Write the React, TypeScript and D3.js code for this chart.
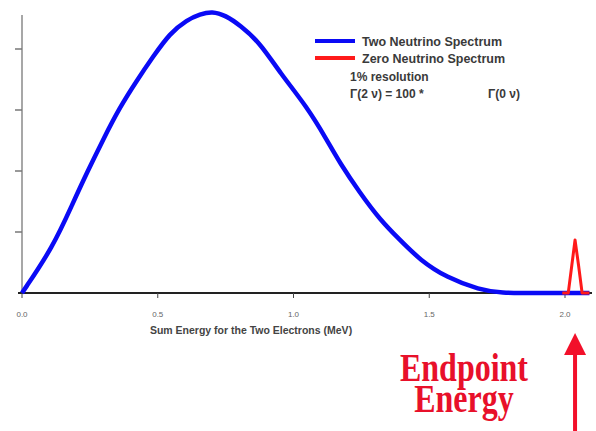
import React from "react";
import * as d3 from "d3";

// Sum energy (MeV) and relative rate
const twoNuEnergy = [0, 0.114, 0.188, 0.239, 0.298, 0.361, 0.424, 0.482, 0.545, 0.608, 0.656, 0.7, 0.75, 0.803, 0.877, 0.95, 1.05, 1.123, 1.171, 1.245, 1.319, 1.392, 1.466, 1.565, 1.687, 1.76, 1.9, 2.09];
const twoNuRate = [0, 0.75, 1.48, 1.97, 2.51, 3.05, 3.49, 3.87, 4.26, 4.48, 4.57, 4.62, 4.55, 4.39, 4.1, 3.61, 3.05, 2.51, 2.13, 1.64, 1.2, 0.87, 0.54, 0.25, 0.05, 0, 0, 0];

const zeroNuEnergy = [1.99, 2.012, 2.025, 2.037, 2.05, 2.063, 2.09];
const zeroNuRate = [0, 0, 0.45, 0.87, 0.45, 0, 0];

const xTicks = [0, 0.5, 1.0, 1.5, 2.0];
const xTickLabels = ["0.0", "0.5", "1.0", "1.5", "2.0"];
const yTicks = [1, 2, 3, 4];

const legendLabels = ["Two Neutrino Spectrum", "Zero Neutrino Spectrum"];
const noteLines = ["1% resolution", "Γ(2 ν) = 100 *"];
const noteRight = "Γ(0 ν)";
const xTitle = "Sum Energy for the Two Electrons (MeV)";

export default function App() {
  const W = 596, H = 431;
  const x = d3.scaleLinear().domain([0, 2]).range([22, 565]);
  const y = d3.scaleLinear().domain([0, 1]).range([293, 232]);

  const line = d3
    .line<[number, number]>()
    .x((d) => x(d[0]))
    .y((d) => y(d[1]))
    .curve(d3.curveBasis);

  const twoNu: [number, number][] = twoNuEnergy.map((e, i) => [e, twoNuRate[i]]);
  const zeroNu: [number, number][] = zeroNuEnergy.map((e, i) => [e, zeroNuRate[i]]);
  const redLine = d3
    .line<[number, number]>()
    .x((d) => x(d[0]))
    .y((d) => y(d[1]))
    .curve(d3.curveLinear);

  const arrowX = x(2.037);
  const txt = "#3a3a3a";

  return (
    <svg
      width={W}
      height={H}
      style={{ position: "absolute", left: 0, top: 0, background: "#fff" }}
      fontFamily="Liberation Sans, Arial, sans-serif"
    >
      <rect x={0} y={0} width={W} height={H} fill="#fff" />
      {/* y axis */}
      <line x1={22} x2={22} y1={15} y2={293} stroke="#8a8a8a" strokeWidth={1.5} />
      {yTicks.map((t) => (
        <line key={t} x1={15} x2={22} y1={y(t)} y2={y(t)} stroke="#777" strokeWidth={1.5} />
      ))}
      {/* x axis */}
      <line x1={18} x2={592} y1={293} y2={293} stroke="#222" strokeWidth={2} />
      {xTicks.map((t, i) => (
        <g key={t}>
          <line x1={x(t)} x2={x(t)} y1={293} y2={298} stroke="#444" strokeWidth={1} />
          <text x={x(t)} y={317} fontSize={8} fill="#666" textAnchor="middle">
            {xTickLabels[i]}
          </text>
        </g>
      ))}
      <text x={251} y={334} fontSize={10.5} fontWeight="bold" fill="#444" textAnchor="middle">
        {xTitle}
      </text>

      {/* spectra */}
      <path d={line(twoNu) || ""} fill="none" stroke="#0a0af5" strokeWidth={4.5} strokeLinejoin="round" />
      <path d={redLine(zeroNu) || ""} fill="none" stroke="#ff1a1a" strokeWidth={3} strokeLinejoin="round" />

      {/* legend */}
      <line x1={315} x2={355} y1={41} y2={41} stroke="#0a0af5" strokeWidth={4} />
      <line x1={315} x2={355} y1={58} y2={58} stroke="#ff1a1a" strokeWidth={4} />
      <text x={362} y={46} fontSize={12.5} fontWeight="bold" fill={txt}>{legendLabels[0]}</text>
      <text x={362} y={63} fontSize={12.5} fontWeight="bold" fill={txt}>{legendLabels[1]}</text>
      <text x={350} y={81} fontSize={12} fontWeight="bold" fill={txt}>{noteLines[0]}</text>
      <text x={350} y={98} fontSize={12} fontWeight="bold" fill={txt}>{noteLines[1]}</text>
      <text x={488} y={98} fontSize={12} fontWeight="bold" fill={txt}>{noteRight}</text>

      {/* annotation */}
      <g fill="#e8102a" fontFamily="Liberation Serif, Times New Roman, serif" fontWeight="bold">
        <text x={464} y={0} fontSize={32} textAnchor="middle" transform="translate(0,381) scale(1,1.25)">
          Endpoint
        </text>
        <text x={464} y={0} fontSize={32} textAnchor="middle" transform="translate(0,412) scale(1,1.25)">
          Energy
        </text>
      </g>
      <line x1={arrowX} x2={arrowX} y1={350} y2={431} stroke="#f2102a" strokeWidth={4} />
      <path
        d={`M${arrowX},333 L${arrowX + 11},355 L${arrowX - 11},355 Z`}
        fill="#f2102a"
      />
    </svg>
  );
}
